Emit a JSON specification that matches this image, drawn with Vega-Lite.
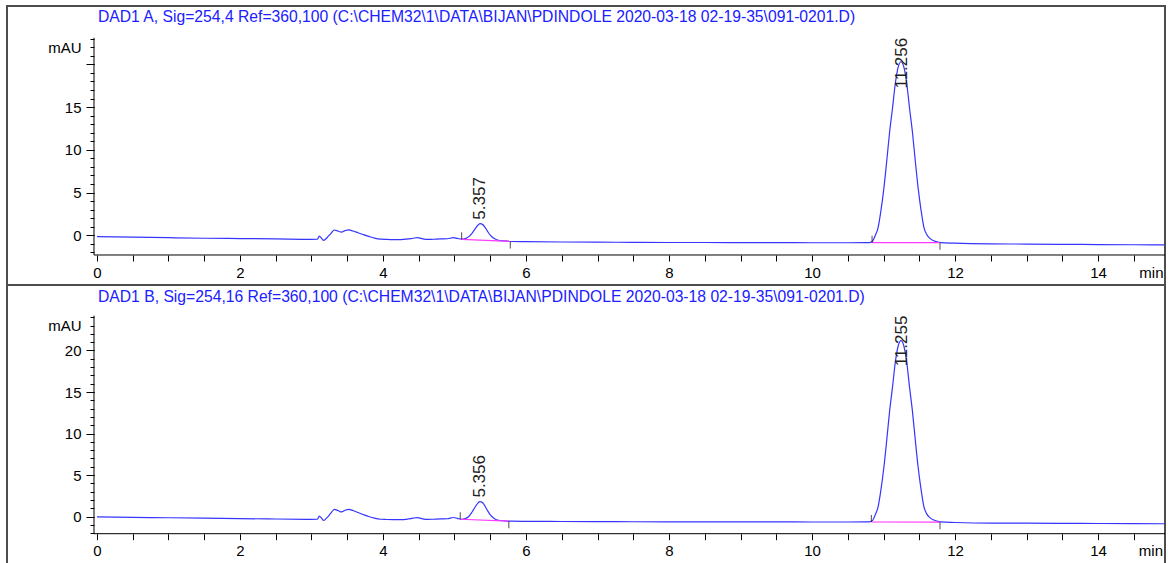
{
  "$schema": "https://vega.github.io/schema/vega-lite/v6.json",
  "padding": {"left": 6, "top": 5, "right": 4, "bottom": 0},
  "spacing": 0,
  "bounds": "flush",
  "background": "white",
  "config": {
    "view": {"stroke": "#4d4d4d", "strokeWidth": 2},
    "axis": {"labelFont": "Liberation Sans", "labelFontSize": 15, "labelColor": "#000", "tickColor": "#000", "tickWidth": 1, "domain": false, "grid": false, "labelFlush": false, "labelOverlap": false},
    "text": {"font": "Liberation Sans"}
  },
  "datasets": {
    "traceA": [
      {"t":0,"v":-0.16},{"t":0.5,"v":-0.22},{"t":1,"v":-0.28},{"t":1.5,"v":-0.34},{"t":2,"v":-0.38},{"t":2.5,"v":-0.42},{"t":3,"v":-0.47},{"t":3.08,"v":-0.46},{"t":3.11,"v":-0.1},{"t":3.14,"v":-0.35},{"t":3.17,"v":-0.6},{"t":3.22,"v":-0.25},{"t":3.27,"v":0.2},{"t":3.32,"v":0.62},{"t":3.37,"v":0.5},{"t":3.42,"v":0.38},{"t":3.47,"v":0.55},{"t":3.52,"v":0.64},{"t":3.58,"v":0.5},{"t":3.65,"v":0.3},{"t":3.72,"v":0.1},{"t":3.8,"v":-0.12},{"t":3.88,"v":-0.32},{"t":3.97,"v":-0.45},{"t":4.05,"v":-0.48},{"t":4.15,"v":-0.5},{"t":4.25,"v":-0.5},{"t":4.35,"v":-0.42},{"t":4.42,"v":-0.34},{"t":4.48,"v":-0.28},{"t":4.54,"v":-0.38},{"t":4.62,"v":-0.48},{"t":4.7,"v":-0.46},{"t":4.8,"v":-0.42},{"t":4.9,"v":-0.4},{"t":4.98,"v":-0.28},{"t":5.04,"v":-0.36},{"t":5.1,"v":-0.45},{"t":5.15,"v":-0.38},{"t":5.2,"v":-0.15},{"t":5.25,"v":0.3},{"t":5.3,"v":0.9},{"t":5.33,"v":1.2},{"t":5.36,"v":1.36},{"t":5.39,"v":1.28},{"t":5.42,"v":1.02},{"t":5.46,"v":0.5},{"t":5.5,"v":0.02},{"t":5.55,"v":-0.35},{"t":5.6,"v":-0.55},{"t":5.7,"v":-0.66},{"t":5.8,"v":-0.72},{"t":6,"v":-0.74},{"t":6.5,"v":-0.78},{"t":7,"v":-0.8},{"t":7.5,"v":-0.82},{"t":8,"v":-0.84},{"t":8.5,"v":-0.84},{"t":9,"v":-0.86},{"t":9.5,"v":-0.86},{"t":10,"v":-0.87},{"t":10.5,"v":-0.87},{"t":10.8,"v":-0.86},{"t":10.845,"v":-0.69},{"t":10.885,"v":-0.01},{"t":10.925,"v":0.94},{"t":10.965,"v":2.95},{"t":11.005,"v":5.49},{"t":11.045,"v":8.66},{"t":11.085,"v":12.05},{"t":11.125,"v":14.8},{"t":11.165,"v":17.76},{"t":11.205,"v":19.67},{"t":11.245,"v":20.3},{"t":11.285,"v":19.67},{"t":11.325,"v":17.76},{"t":11.365,"v":14.8},{"t":11.405,"v":12.05},{"t":11.445,"v":8.66},{"t":11.485,"v":5.49},{"t":11.525,"v":2.95},{"t":11.565,"v":0.94},{"t":11.605,"v":0.09},{"t":11.645,"v":-0.33},{"t":11.695,"v":-0.61},{"t":11.745,"v":-0.75},{"t":11.8,"v":-0.85},{"t":12,"v":-0.92},{"t":12.5,"v":-1.0},{"t":13,"v":-1.02},{"t":13.5,"v":-1.05},{"t":14,"v":-1.08},{"t":14.5,"v":-1.1},{"t":15,"v":-1.12}
    ],
    "traceB": [
      {"t":0,"v":-0.05},{"t":0.5,"v":-0.1},{"t":1,"v":-0.15},{"t":1.5,"v":-0.2},{"t":2,"v":-0.25},{"t":2.5,"v":-0.3},{"t":3,"v":-0.34},{"t":3.08,"v":-0.33},{"t":3.11,"v":0.05},{"t":3.14,"v":-0.2},{"t":3.17,"v":-0.48},{"t":3.22,"v":-0.1},{"t":3.27,"v":0.4},{"t":3.32,"v":0.85},{"t":3.37,"v":0.72},{"t":3.42,"v":0.55},{"t":3.47,"v":0.75},{"t":3.52,"v":0.87},{"t":3.58,"v":0.72},{"t":3.65,"v":0.48},{"t":3.72,"v":0.25},{"t":3.8,"v":0.0},{"t":3.88,"v":-0.2},{"t":3.97,"v":-0.33},{"t":4.05,"v":-0.36},{"t":4.15,"v":-0.38},{"t":4.25,"v":-0.38},{"t":4.35,"v":-0.3},{"t":4.42,"v":-0.2},{"t":4.48,"v":-0.14},{"t":4.54,"v":-0.25},{"t":4.62,"v":-0.35},{"t":4.7,"v":-0.33},{"t":4.8,"v":-0.28},{"t":4.9,"v":-0.27},{"t":4.98,"v":-0.12},{"t":5.04,"v":-0.22},{"t":5.1,"v":-0.33},{"t":5.15,"v":-0.25},{"t":5.2,"v":0.0},{"t":5.25,"v":0.6},{"t":5.3,"v":1.3},{"t":5.33,"v":1.65},{"t":5.356,"v":1.8},{"t":5.39,"v":1.7},{"t":5.42,"v":1.35},{"t":5.46,"v":0.75},{"t":5.5,"v":0.2},{"t":5.55,"v":-0.2},{"t":5.6,"v":-0.42},{"t":5.7,"v":-0.52},{"t":5.8,"v":-0.56},{"t":6,"v":-0.58},{"t":6.5,"v":-0.6},{"t":7,"v":-0.62},{"t":7.5,"v":-0.63},{"t":8,"v":-0.64},{"t":8.5,"v":-0.64},{"t":9,"v":-0.65},{"t":9.5,"v":-0.65},{"t":10,"v":-0.66},{"t":10.5,"v":-0.66},{"t":10.8,"v":-0.65},{"t":10.845,"v":-0.49},{"t":10.885,"v":0.21},{"t":10.925,"v":1.2},{"t":10.965,"v":3.27},{"t":11.005,"v":5.9},{"t":11.045,"v":9.18},{"t":11.085,"v":12.67},{"t":11.125,"v":15.52},{"t":11.165,"v":18.58},{"t":11.205,"v":20.54},{"t":11.245,"v":21.2},{"t":11.285,"v":20.54},{"t":11.325,"v":18.58},{"t":11.365,"v":15.52},{"t":11.405,"v":12.67},{"t":11.445,"v":9.18},{"t":11.485,"v":5.9},{"t":11.525,"v":3.27},{"t":11.565,"v":1.2},{"t":11.605,"v":0.32},{"t":11.645,"v":-0.11},{"t":11.695,"v":-0.4},{"t":11.745,"v":-0.55},{"t":11.8,"v":-0.65},{"t":12,"v":-0.72},{"t":12.5,"v":-0.8},{"t":13,"v":-0.8},{"t":13.5,"v":-0.82},{"t":14,"v":-0.84},{"t":14.5,"v":-0.86},{"t":15,"v":-0.87}
    ],
    "baseA": [
      {"seg":1,"t":5.1,"v":-0.47},{"seg":1,"t":5.78,"v":-0.72},
      {"seg":2,"t":10.84,"v":-0.86},{"seg":2,"t":11.79,"v":-0.86}
    ],
    "baseB": [
      {"seg":1,"t":5.08,"v":-0.33},{"seg":1,"t":5.76,"v":-0.56},
      {"seg":2,"t":10.83,"v":-0.66},{"seg":2,"t":11.79,"v":-0.68}
    ],
    "eventsA": [
      {"kind":"start","t":5.1,"v":-0.47},{"kind":"end","t":5.78,"v":-0.72},
      {"kind":"start","t":10.84,"v":-0.86},{"kind":"end","t":11.79,"v":-0.86}
    ],
    "eventsB": [
      {"kind":"start","t":5.08,"v":-0.33},{"kind":"end","t":5.76,"v":-0.56},
      {"kind":"start","t":10.83,"v":-0.66},{"kind":"end","t":11.79,"v":-0.68}
    ],
    "peaksA": [
      {"kind":"minor","rt":5.357,"label":"5.357","apex":1.36},
      {"kind":"major","rt":11.256,"label":"11.256","apex":20.3}
    ],
    "peaksB": [
      {"kind":"minor","rt":5.356,"label":"5.356","apex":1.8},
      {"kind":"major","rt":11.255,"label":"11.255","apex":21.2}
    ]
  },
  "vconcat": [
    {
      "width": 1158,
      "height": 279,
      "title": {"text": "DAD1 A, Sig=254,4 Ref=360,100 (C:\\CHEM32\\1\\DATA\\BIJAN\\PDINDOLE 2020-03-18 02-19-35\\091-0201.D)", "orient": "none", "anchor": "start", "frame": "group", "dx": 91, "dy": 15.7, "offset": 0, "baseline": "alphabetic", "color": "#2020ff", "font": "Liberation Sans", "fontSize": 15.7, "fontWeight": "normal"},
      "resolve": {"axis": {"x": "independent", "y": "independent"}},
      "layer": [
        {
          "data": {"name": "traceA"},
          "mark": {"type": "line", "color": "#3535ff", "strokeWidth": 1.2, "interpolate": "monotone", "clip": true},
          "encoding": {
            "x": {"field": "t", "type": "quantitative", "scale": {"domain": [-1.2587, 14.937], "nice": false, "zero": false},
                  "axis": {"orient": "bottom", "offset": -30, "title": null, "values": [0,0.5,1,1.5,2,2.5,3,3.5,4,4.5,5,5.5,6,6.5,7,7.5,8,8.5,9,9.5,10,10.5,11,11.5,12,12.5,13,13.5,14,14.5,14.74], "labelExpr": "datum.value > 14.6 ? 'min' : (datum.value % 2 === 0 ? format(datum.value, 'd') : '')", "tickOpacity": {"condition": {"test": "datum.value > 14.6", "value": 0}, "value": 1}, "tickSize": 6, "labelPadding": 4}},
            "y": {"field": "v", "type": "quantitative", "scale": {"domain": [-5.81, 26.82], "nice": false, "zero": false},
                  "axis": {"orient": "left", "offset": -87, "title": null, "values": [0,5,10,15,20], "labelExpr": "datum.value === 20 ? '' : datum.label", "tickSize": 8, "labelPadding": 5}}
          }
        },
        {
          "data": {"name": "baseA"},
          "mark": {"type": "line", "color": "#ff3cff", "strokeWidth": 1.2},
          "encoding": {
            "x": {"field": "t", "type": "quantitative", "scale": {"domain": [-1.2587, 14.937], "nice": false, "zero": false}, "axis": null},
            "y": {"field": "v", "type": "quantitative", "scale": {"domain": [-5.81, 26.82], "nice": false, "zero": false},
                  "axis": {"orient": "left", "offset": -87, "title": null, "values": [-2,-1,0,1,2,3,4,5,6,7,8,9,10,11,12,13,14,15,16,17,18,19,20,21,22,23], "labelExpr": "datum.value === 22 ? 'mAU' : ''", "tickSize": 4, "labelPadding": 9}},
            "detail": {"field": "seg", "type": "nominal"}
          }
        },
        {
          "data": {"values": [{}]},
          "mark": {"type": "rule", "color": "#000", "strokeWidth": 1},
          "encoding": {
            "x": {"datum": -0.042, "type": "quantitative", "scale": {"domain": [-1.2587, 14.937], "nice": false, "zero": false}, "axis": null},
            "y": {"datum": -2.3, "type": "quantitative", "scale": {"domain": [-5.81, 26.82], "nice": false, "zero": false}, "axis": null},
            "y2": {"datum": 23.1}
          }
        },
        {
          "data": {"values": [{}]},
          "mark": {"type": "rule", "color": "#000", "strokeWidth": 1},
          "encoding": {
            "x": {"datum": -0.042, "type": "quantitative", "scale": {"domain": [-1.2587, 14.937], "nice": false, "zero": false}, "axis": null},
            "x2": {"datum": 14.937},
            "y": {"datum": -2.3, "type": "quantitative", "scale": {"domain": [-5.81, 26.82], "nice": false, "zero": false}, "axis": null}
          }
        },
        {
          "data": {"name": "eventsA"},
          "transform": [{"filter": "datum.kind === 'start'"}],
          "mark": {"type": "tick", "orient": "vertical", "size": 7, "thickness": 1, "color": "#000", "yOffset": -3.5},
          "encoding": {
            "x": {"field": "t", "type": "quantitative", "scale": {"domain": [-1.2587, 14.937], "nice": false, "zero": false}, "axis": null},
            "y": {"field": "v", "type": "quantitative", "scale": {"domain": [-5.81, 26.82], "nice": false, "zero": false}, "axis": null}
          }
        },
        {
          "data": {"name": "eventsA"},
          "transform": [{"filter": "datum.kind === 'end'"}],
          "mark": {"type": "tick", "orient": "vertical", "size": 7, "thickness": 1, "color": "#000", "yOffset": 3.5},
          "encoding": {
            "x": {"field": "t", "type": "quantitative", "scale": {"domain": [-1.2587, 14.937], "nice": false, "zero": false}, "axis": null},
            "y": {"field": "v", "type": "quantitative", "scale": {"domain": [-5.81, 26.82], "nice": false, "zero": false}, "axis": null}
          }
        },
        {
          "data": {"name": "peaksA"},
          "transform": [{"filter": "datum.kind === 'minor'"}],
          "mark": {"type": "text", "angle": 270, "align": "left", "baseline": "middle", "fontSize": 17, "color": "#222", "yOffset": -4},
          "encoding": {
            "x": {"field": "rt", "type": "quantitative", "scale": {"domain": [-1.2587, 14.937], "nice": false, "zero": false}, "axis": null},
            "y": {"field": "apex", "type": "quantitative", "scale": {"domain": [-5.81, 26.82], "nice": false, "zero": false}, "axis": null},
            "text": {"field": "label", "type": "nominal"}
          }
        },
        {
          "data": {"name": "peaksA"},
          "transform": [{"filter": "datum.kind === 'major'"}],
          "mark": {"type": "text", "angle": 270, "align": "right", "baseline": "middle", "fontSize": 17, "color": "#222"},
          "encoding": {
            "x": {"field": "rt", "type": "quantitative", "scale": {"domain": [-1.2587, 14.937], "nice": false, "zero": false}, "axis": null},
            "y": {"datum": 23.1, "type": "quantitative", "scale": {"domain": [-5.81, 26.82], "nice": false, "zero": false}, "axis": null},
            "text": {"field": "label", "type": "nominal"}
          }
        }
      ]
    },
    {
      "width": 1158,
      "height": 279,
      "title": {"text": "DAD1 B, Sig=254,16 Ref=360,100 (C:\\CHEM32\\1\\DATA\\BIJAN\\PDINDOLE 2020-03-18 02-19-35\\091-0201.D)", "orient": "none", "anchor": "start", "frame": "group", "dx": 91, "dy": 16.7, "offset": 0, "baseline": "alphabetic", "color": "#2020ff", "font": "Liberation Sans", "fontSize": 15.7, "fontWeight": "normal"},
      "resolve": {"axis": {"x": "independent", "y": "independent"}},
      "layer": [
        {
          "data": {"name": "traceB"},
          "mark": {"type": "line", "color": "#3535ff", "strokeWidth": 1.2, "interpolate": "monotone", "clip": true},
          "encoding": {
            "x": {"field": "t", "type": "quantitative", "scale": {"domain": [-1.2587, 14.937], "nice": false, "zero": false},
                  "axis": {"orient": "bottom", "offset": -30.3, "title": null, "values": [0,0.5,1,1.5,2,2.5,3,3.5,4,4.5,5,5.5,6,6.5,7,7.5,8,8.5,9,9.5,10,10.5,11,11.5,12,12.5,13,13.5,14,14.5], "labelExpr": "datum.value % 2 === 0 ? format(datum.value, 'd') : ''", "tickSize": 6, "labelPadding": 4}},
            "y": {"field": "v", "type": "quantitative", "scale": {"domain": [-5.72, 27.89], "nice": false, "zero": false},
                  "axis": {"orient": "left", "offset": -87, "title": null, "values": [0,5,10,15,20], "tickSize": 8, "labelPadding": 5}}
          }
        },
        {
          "data": {"name": "baseB"},
          "mark": {"type": "line", "color": "#ff3cff", "strokeWidth": 1.2},
          "encoding": {
            "x": {"field": "t", "type": "quantitative", "scale": {"domain": [-1.2587, 14.937], "nice": false, "zero": false}, "axis": null},
            "y": {"field": "v", "type": "quantitative", "scale": {"domain": [-5.72, 27.89], "nice": false, "zero": false},
                  "axis": {"orient": "left", "offset": -87, "title": null, "values": [-2,-1,0,1,2,3,4,5,6,7,8,9,10,11,12,13,14,15,16,17,18,19,20,21,22,23,24], "labelExpr": "datum.value === 23 ? 'mAU' : ''", "tickSize": 4, "labelPadding": 9}},
            "detail": {"field": "seg", "type": "nominal"}
          }
        },
        {
          "data": {"values": [{}]},
          "mark": {"type": "rule", "color": "#000", "strokeWidth": 1},
          "encoding": {
            "x": {"datum": -0.042, "type": "quantitative", "scale": {"domain": [-1.2587, 14.937], "nice": false, "zero": false}, "axis": null},
            "y": {"datum": -2.07, "type": "quantitative", "scale": {"domain": [-5.72, 27.89], "nice": false, "zero": false}, "axis": null},
            "y2": {"datum": 24.2}
          }
        },
        {
          "data": {"values": [{}]},
          "mark": {"type": "rule", "color": "#000", "strokeWidth": 1},
          "encoding": {
            "x": {"datum": -0.042, "type": "quantitative", "scale": {"domain": [-1.2587, 14.937], "nice": false, "zero": false}, "axis": null},
            "x2": {"datum": 14.937},
            "y": {"datum": -2.07, "type": "quantitative", "scale": {"domain": [-5.72, 27.89], "nice": false, "zero": false}, "axis": null}
          }
        },
        {
          "data": {"values": [{"unit": "min"}]},
          "mark": {"type": "text", "align": "center", "baseline": "top", "fontSize": 15, "color": "#000", "yOffset": 10},
          "encoding": {
            "x": {"datum": 14.74, "type": "quantitative", "scale": {"domain": [-1.2587, 14.937], "nice": false, "zero": false}, "axis": null},
            "y": {"datum": -2.07, "type": "quantitative", "scale": {"domain": [-5.72, 27.89], "nice": false, "zero": false}, "axis": null},
            "text": {"field": "unit", "type": "nominal"}
          }
        },
        {
          "data": {"name": "eventsB"},
          "transform": [{"filter": "datum.kind === 'start'"}],
          "mark": {"type": "tick", "orient": "vertical", "size": 7, "thickness": 1, "color": "#000", "yOffset": -3.5},
          "encoding": {
            "x": {"field": "t", "type": "quantitative", "scale": {"domain": [-1.2587, 14.937], "nice": false, "zero": false}, "axis": null},
            "y": {"field": "v", "type": "quantitative", "scale": {"domain": [-5.72, 27.89], "nice": false, "zero": false}, "axis": null}
          }
        },
        {
          "data": {"name": "eventsB"},
          "transform": [{"filter": "datum.kind === 'end'"}],
          "mark": {"type": "tick", "orient": "vertical", "size": 7, "thickness": 1, "color": "#000", "yOffset": 3.5},
          "encoding": {
            "x": {"field": "t", "type": "quantitative", "scale": {"domain": [-1.2587, 14.937], "nice": false, "zero": false}, "axis": null},
            "y": {"field": "v", "type": "quantitative", "scale": {"domain": [-5.72, 27.89], "nice": false, "zero": false}, "axis": null}
          }
        },
        {
          "data": {"name": "peaksB"},
          "transform": [{"filter": "datum.kind === 'minor'"}],
          "mark": {"type": "text", "angle": 270, "align": "left", "baseline": "middle", "fontSize": 17, "color": "#222", "yOffset": -4},
          "encoding": {
            "x": {"field": "rt", "type": "quantitative", "scale": {"domain": [-1.2587, 14.937], "nice": false, "zero": false}, "axis": null},
            "y": {"field": "apex", "type": "quantitative", "scale": {"domain": [-5.72, 27.89], "nice": false, "zero": false}, "axis": null},
            "text": {"field": "label", "type": "nominal"}
          }
        },
        {
          "data": {"name": "peaksB"},
          "transform": [{"filter": "datum.kind === 'major'"}],
          "mark": {"type": "text", "angle": 270, "align": "right", "baseline": "middle", "fontSize": 17, "color": "#222"},
          "encoding": {
            "x": {"field": "rt", "type": "quantitative", "scale": {"domain": [-1.2587, 14.937], "nice": false, "zero": false}, "axis": null},
            "y": {"datum": 24.2, "type": "quantitative", "scale": {"domain": [-5.72, 27.89], "nice": false, "zero": false}, "axis": null},
            "text": {"field": "label", "type": "nominal"}
          }
        }
      ]
    }
  ]
}
